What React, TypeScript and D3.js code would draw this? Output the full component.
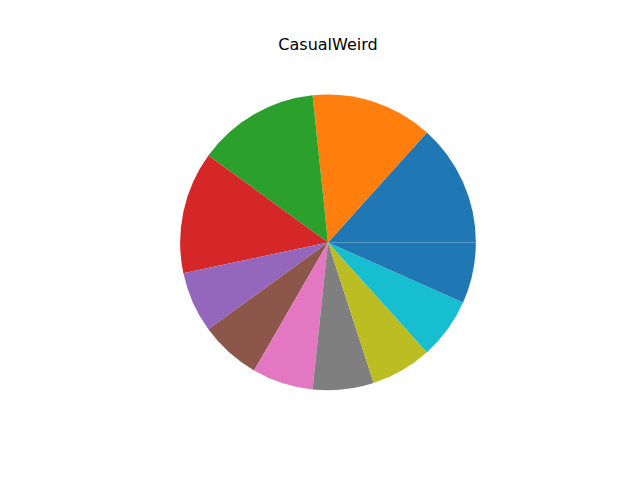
import React, { useEffect, useRef } from 'react'
import * as d3 from 'd3'

const title = 'CasualWeird'
const labels = ['A', 'B', 'C', 'D', 'E', 'F', 'G', 'H', 'I', 'J', 'K']
const values = [2, 2, 2, 2, 1, 1, 1, 1, 1, 1, 1]
const colors = [
  '#1f77b4', '#ff7f0e', '#2ca02c', '#d62728', '#9467bd', '#8c564b',
  '#e377c2', '#7f7f7f', '#bcbd22', '#17becf', '#1f77b4',
]

const W = 640
const H = 480

export default function App() {
  const ref = useRef<SVGSVGElement>(null)

  useEffect(() => {
    const svg = d3.select(ref.current)
    svg.selectAll('*').remove()

    // matplotlib axes box: 80..576 x 57.6..427.2, pie limits +-1.25
    const axTop = 57.6
    const axH = 369.6
    const cx = 80 + 496 / 2
    const cy = axTop + axH / 2
    const r = axH / 2.5

    // start at 3 o'clock, go counterclockwise like matplotlib
    const pie = d3.pie<number>()
      .sort(null)
      .value(d => d)
      .startAngle(Math.PI / 2)
      .endAngle(Math.PI / 2 - 2 * Math.PI)

    const arc = d3.arc<d3.PieArcDatum<number>>()
      .innerRadius(0)
      .outerRadius(r)

    const g = svg.append('g')
      .attr('transform', 'translate(' + cx + ',' + cy + ')')

    g.selectAll('path')
      .data(pie(values))
      .enter()
      .append('path')
      .attr('d', arc)
      .attr('fill', (d, i) => colors[i])
      .attr('data-label', (d, i) => labels[i])

    svg.append('text')
      .attr('x', cx)
      .attr('y', axTop - 8)
      .attr('text-anchor', 'middle')
      .style('font-family', 'DejaVu Sans')
      .style('font-size', '16px')
      .text(title)
  }, [])

  return (
    <svg ref={ref} width={W} height={H} style={{ position: 'absolute', left: 0, top: 0, background: '#fff' }} />
  )
}
